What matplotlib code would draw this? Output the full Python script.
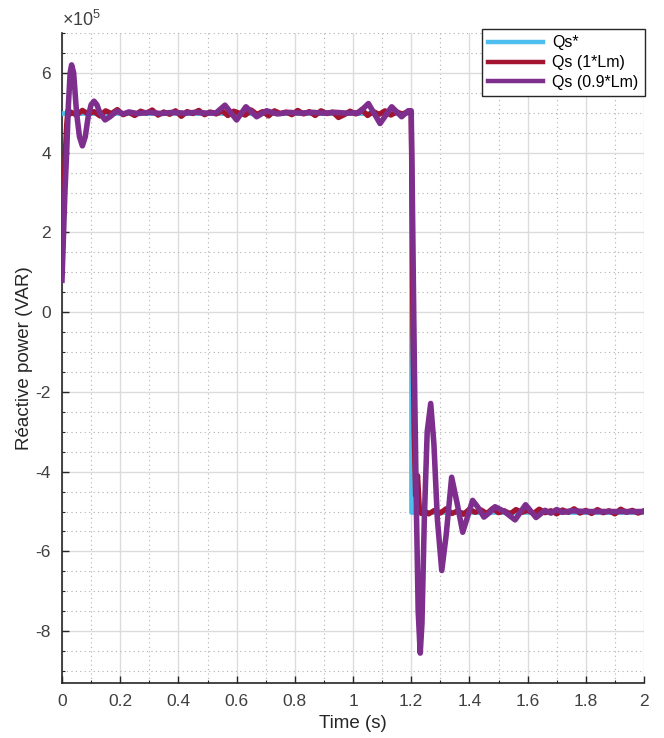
import numpy as np
import matplotlib
matplotlib.use("Agg")
import matplotlib.pyplot as plt
from matplotlib.ticker import MultipleLocator, FuncFormatter

plt.rcParams['font.family'] = ['Liberation Sans', 'DejaVu Sans']
plt.rcParams['axes.unicode_minus'] = False
plt.rcParams['mathtext.fontset'] = 'custom'
plt.rcParams['mathtext.rm'] = 'Liberation Sans'

# ---------------- data (values in VAR) ----------------
ref_t = [0.0, 1.2, 1.2, 2.0]
ref_q = [5.0e5, 5.0e5, -5.0e5, -5.0e5]

# Qs (1*Lm): start-up, noisy plateau, drop, noisy plateau
red_start_t = [0.0, 0.004, 0.008, 0.012, 0.016, 0.020, 0.025]
red_start_q = [1.8e5, 2.4e5, 3.3e5, 4.1e5, 4.7e5, 5.05e5, 4.95e5]
red_high_t = [0.03 + 0.02 * i for i in range(59)]
red_high_q = [5.02e5, 4.94e5, 5.06e5, 4.97e5, 5.03e5, 4.92e5, 5.05e5, 4.98e5, 5.08e5, 4.95e5,
              5.01e5, 4.93e5, 5.04e5, 4.99e5, 5.07e5, 4.94e5, 5.02e5, 4.96e5, 5.05e5, 4.91e5,
              5.03e5, 4.98e5, 5.06e5, 4.95e5, 5.02e5, 4.97e5, 5.05e5, 4.93e5, 5.04e5, 4.99e5,
              4.94e5, 5.07e5, 4.96e5, 5.03e5, 4.92e5, 5.05e5, 4.98e5, 5.02e5, 4.95e5, 5.06e5,
              4.97e5, 5.03e5, 4.93e5, 5.05e5, 4.98e5, 5.02e5, 4.88e5, 4.95e5, 5.04e5, 4.97e5,
              5.08e5, 4.93e5, 5.03e5, 4.96e5, 5.05e5, 4.94e5, 5.02e5, 4.97e5, 5.03e5]
red_drop_t = [1.2, 1.203, 1.206, 1.21, 1.215, 1.222, 1.228, 1.235]
red_drop_q = [5.0e5, 2.5e5, -0.5e5, -3.0e5, -4.6e5, -4.1e5, -4.9e5, -5.05e5]
red_low_t = [1.24 + 0.02 * i for i in range(39)]
red_low_q = [-4.95e5, -5.06e5, -4.97e5, -5.04e5, -4.93e5, -5.05e5, -4.98e5, -5.07e5, -4.94e5, -5.02e5,
             -4.96e5, -5.05e5, -4.92e5, -5.03e5, -4.98e5, -5.06e5, -4.95e5, -5.02e5, -4.97e5, -5.05e5,
             -4.94e5, -5.03e5, -4.98e5, -5.06e5, -4.96e5, -5.02e5, -4.93e5, -5.04e5, -4.97e5, -5.05e5,
             -4.95e5, -5.03e5, -4.98e5, -5.06e5, -4.94e5, -5.02e5, -4.97e5, -5.04e5, -4.98e5]

# Qs (0.9*Lm)
pur_t = [0.0, 0.005, 0.01, 0.016, 0.022, 0.028, 0.033, 0.04, 0.05, 0.06, 0.07, 0.08, 0.09,
         0.10, 0.11, 0.12, 0.13, 0.148, 0.165, 0.188, 0.21, 0.23, 0.26, 0.30, 0.34, 0.38,
         0.42, 0.46, 0.50, 0.53, 0.56, 0.60, 0.632, 0.669, 0.703, 0.74, 0.78, 0.82, 0.86,
         0.90, 0.94, 0.98, 1.02, 1.053, 1.093, 1.133, 1.167, 1.19, 1.2, 1.203, 1.207, 1.212,
         1.218, 1.224, 1.231, 1.237, 1.245, 1.255, 1.267, 1.278, 1.29, 1.305, 1.32, 1.339,
         1.358, 1.377, 1.395, 1.411, 1.43, 1.45, 1.47, 1.488, 1.52, 1.557, 1.593, 1.629,
         1.66, 1.68, 1.70, 1.72, 1.75, 1.8, 1.9, 2.0]
pur_q = [0.8e5, 1.9e5, 3.0e5, 4.0e5, 5.2e5, 6.0e5, 6.2e5, 6.0e5, 5.0e5, 4.4e5, 4.17e5, 4.4e5, 4.9e5,
         5.2e5, 5.29e5, 5.2e5, 5.0e5, 4.82e5, 4.9e5, 5.04e5, 4.97e5, 5.02e5, 4.98e5, 5.01e5, 4.98e5, 5.01e5,
         4.99e5, 5.01e5, 4.99e5, 5.0e5, 5.19e5, 4.82e5, 5.15e5, 4.9e5, 5.05e5, 4.97e5, 5.01e5, 4.99e5, 5.01e5,
         4.99e5, 5.01e5, 4.99e5, 5.0e5, 5.23e5, 4.73e5, 5.15e5, 4.9e5, 5.05e5, 5.05e5, 3.5e5, 1.0e5, -2.0e5,
         -5.0e5, -7.5e5, -8.55e5, -7.8e5, -5.2e5, -3.0e5, -2.29e5, -3.3e5, -5.2e5, -6.48e5, -5.6e5, -4.14e5,
         -4.8e5, -5.52e5, -5.1e5, -4.72e5, -4.9e5, -5.14e5, -5.02e5, -4.88e5, -5.0e5, -5.21e5, -4.83e5, -5.15e5,
         -4.97e5, -5.04e5, -4.95e5, -5.02e5, -4.98e5, -5.0e5, -5.0e5, -5.0e5]

legend_labels = ['Qs*', 'Qs (1*Lm)', 'Qs (0.9*Lm)']
x_ticks = [0, 0.2, 0.4, 0.6, 0.8, 1, 1.2, 1.4, 1.6, 1.8, 2]
y_ticks = [-8e5, -6e5, -4e5, -2e5, 0, 2e5, 4e5, 6e5]

# ---------------- figure ----------------
fig = plt.figure(figsize=(6.64, 7.38), dpi=100)
ax = fig.add_axes([62 / 664, 55 / 738, (644 - 62) / 664, (683 - 33) / 738])

red_t = red_start_t + red_high_t + red_drop_t + red_low_t
red_q = red_start_q + red_high_q + red_drop_q + red_low_q

c_ref, c_red, c_pur = '#4DBEEE', '#A2142F', '#7E2F8E'
ax.plot(ref_t, ref_q, color=c_ref, lw=3.4, label=legend_labels[0], zorder=3)
ax.plot(red_t, red_q, color=c_red, lw=3.8, label=legend_labels[1], zorder=4)
ax.plot(pur_t, pur_q, color=c_pur, lw=4.0, label=legend_labels[2], zorder=5)

ax.set_xlim(0, 2)
ax.set_ylim(-9.3e5, 7e5)
ax.set_xticks(x_ticks)
ax.set_yticks(y_ticks)
ax.xaxis.set_minor_locator(MultipleLocator(0.1))
ax.yaxis.set_minor_locator(MultipleLocator(0.5e5))
ax.xaxis.set_major_formatter(FuncFormatter(lambda v, p: f"{v:g}"))
ax.yaxis.set_major_formatter(FuncFormatter(lambda v, p: f"{v / 1e5:g}"))

for s in ['top', 'right']:
    ax.spines[s].set_visible(False)
for s in ['left', 'bottom']:
    ax.spines[s].set_color('#262626')
    ax.spines[s].set_linewidth(1.2)

ax.tick_params(which='major', direction='in', length=5, width=1.0, color='#262626',
               labelsize=12.5, labelcolor='#404040', pad=8)
ax.tick_params(which='minor', direction='in', length=2.5, width=0.8, color='#262626')

ax.grid(which='major', color='#dcdcdc', lw=1.0, ls='-', zorder=0)
ax.grid(which='minor', color='#b0b0b0', lw=0.8, ls=(0, (1, 3)), zorder=0)
ax.set_axisbelow(True)

ax.set_xlabel('Time (s)', fontsize=13.5, color='#262626', labelpad=4)
ax.set_ylabel('Réactive power (VAR)', fontsize=13.5, color='#262626', labelpad=2)

ax.text(0.0, 1.004, r'$\times10^{5}$', transform=ax.transAxes, fontsize=13,
        color='#404040', ha='left', va='bottom')

leg = ax.legend(loc='upper right', bbox_to_anchor=(645 / 664, 1 - 29 / 738),
                bbox_transform=fig.transFigure, borderaxespad=0, fancybox=False,
                edgecolor='#262626', framealpha=1, fontsize=11.5, handlelength=3.4,
                labelspacing=0.3, handletextpad=0.6, borderpad=0.4)
leg.get_frame().set_linewidth(1.0)
for h in leg.get_lines():
    h.set_linewidth(3.2)

fig.savefig('out.png', dpi=100)
